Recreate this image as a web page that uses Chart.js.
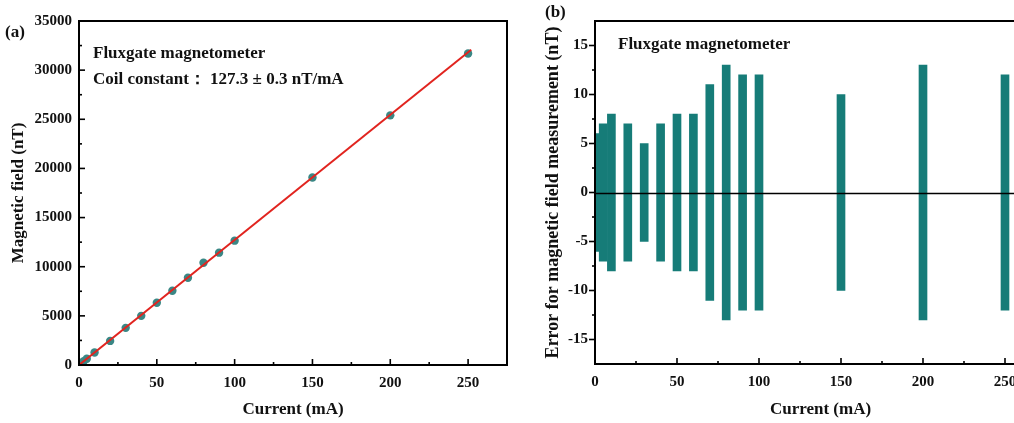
<!DOCTYPE html>
<html><head><meta charset="utf-8">
<script src="https://cdn.jsdelivr.net/npm/chart.js@4.4.1/dist/chart.umd.min.js"></script>
<style>
html,body{margin:0;padding:0;background:#fff;overflow:hidden;width:1014px;height:423px}
#wa{position:absolute;left:0;top:0}
#wb{position:absolute;left:535px;top:0}
</style></head><body>
<div id="wa"><canvas id="ca" width="520" height="423"></canvas></div>
<div id="wb"><canvas id="cb" width="525" height="423"></canvas></div>
<script>
// (a) calibration points
const currentA = [3, 5, 10, 20, 30, 40, 50, 60, 70, 80, 90, 100, 150, 200, 250];
const fieldA   = [380, 640, 1270, 2450, 3780, 5000, 6330, 7550, 8880, 10400, 11430, 12650, 19080, 25400, 31700];
// (a) fitted line ends
const fitX = [0, 252];
const fitY = [0, 32080];
// (b) error range per current
const currentB = [3, 5, 10, 20, 30, 40, 50, 60, 70, 80, 90, 100, 150, 200, 250];
const errLow   = [-6, -7, -8, -7, -5, -7, -8, -8, -11, -13, -12, -12, -10, -13, -12];
const errHigh  = [6, 7, 8, 7, 5, 7, 8, 8, 11, 13, 12, 12, 10, 13, 12];
// ticks
const xTicks  = [0, 50, 100, 150, 200, 250];
const yTicksA = [0, 5000, 10000, 15000, 20000, 25000, 30000, 35000];
const yTicksB = [-15, -10, -5, 0, 5, 10, 15];

const FONT = '"Liberation Serif", "Times New Roman", serif';
Chart.defaults.font.family = FONT;
Chart.defaults.color = '#111';

const tickFont = {family: FONT, size: 15, weight: 'bold'};
const titleFont = {family: FONT, size: 17, weight: 'bold'};

function setTicks(list){ return s => { s.ticks = list.map(v => ({value: v})); }; }

// frame, inward/outward ticks, zero line, free text
function decor(o){
  return {
    id: 'decor',
    afterDatasetsDraw(chart){
      const {ctx, chartArea: a, scales: {x, y}} = chart;
      ctx.save();
      ctx.strokeStyle = '#000';
      if (o.zero){
        ctx.lineWidth = 1.6;
        const y0 = Math.round(y.getPixelForValue(0)) + 0.5;
        ctx.beginPath(); ctx.moveTo(a.left, y0); ctx.lineTo(a.right, y0); ctx.stroke();
      }
      ctx.lineWidth = 2;
      ctx.strokeRect(a.left, a.top, a.right - a.left, a.bottom - a.top);
      ctx.lineWidth = 1.6;
      const marks = (sc, list) => {
        const step = list[1] - list[0], out = [];
        list.forEach(v => { out.push([v, 1]); if (v + step/2 < sc.max) out.push([v + step/2, 0]); });
        return out;
      };
      marks(x, o.xt).forEach(([v, major]) => {
        const p = x.getPixelForValue(v), len = major ? 6 : 3;
        ctx.beginPath(); ctx.moveTo(p, a.bottom); ctx.lineTo(p, a.bottom - len); ctx.stroke();
      });
      marks(y, o.yt).forEach(([v, major]) => {
        const p = y.getPixelForValue(v), len = major ? 6 : 3;
        const d = o.yOut ? -len : len;
        ctx.beginPath(); ctx.moveTo(a.left, p); ctx.lineTo(a.left + d, p); ctx.stroke();
      });
      ctx.fillStyle = '#111';
      ctx.font = 'bold 17px ' + FONT;
      ctx.textBaseline = 'middle';
      o.texts.forEach(t => ctx.fillText(t[0], t[1], t[2]));
      ctx.restore();
    }
  };
}

function scales(xt, yt, yMin, yMax, yTitle, yTitleSize, yAfterFit, xAfterFit){
  return {
    x: {
      type: 'linear', min: 0, max: 275, offset: false,
      afterBuildTicks: setTicks(xt),
      afterFit: xAfterFit,
      grid: {display: false, drawTicks: false, offset: false}, border: {display: false},
      ticks: {font: tickFont, padding: 9, color: '#111', callback: v => String(v)},
      title: {display: true, text: 'Current (mA)', font: titleFont, color: '#111', padding: {top: 0, bottom: 3}}
    },
    y: {
      type: 'linear', min: yMin, max: yMax,
      afterBuildTicks: setTicks(yt),
      afterFit: yAfterFit,
      grid: {display: false, drawTicks: false}, border: {display: false},
      ticks: {font: tickFont, padding: 7, color: '#111', callback: v => String(v)},
      title: {display: true, text: yTitle, font: {...titleFont, size: yTitleSize}, color: '#111', padding: {top: 8, bottom: 0}}
    }
  };
}

new Chart(document.getElementById('ca'), {
  type: 'scatter',
  data: {
    datasets: [
      {data: fitX.map((v, i) => ({x: v, y: fitY[i]})), showLine: true, borderColor: '#e1241f', borderWidth: 2, pointRadius: 0},
      {data: currentA.map((v, i) => ({x: v, y: fieldA[i]})), pointRadius: 4.2, backgroundColor: '#3a8785', borderWidth: 0}
    ]
  },
  options: {
    responsive: false, animation: false,
    layout: {padding: {top: 21, right: 13, left: 0, bottom: 0}},
    plugins: {legend: {display: false}, tooltip: {enabled: false}},
    scales: scales(xTicks, yTicksA, 0, 35000, 'Magnetic field (nT)', 17, s => { s.width = 79; }, s => { s.height = 58; })
  },
  plugins: [decor({xt: xTicks, yt: yTicksA, yOut: false, texts: [
    ['(a)', 5, 33],
    ['Fluxgate magnetometer', 93, 54],
    ['Coil constant\uff1a 127.3 \u00b1 0.3 nT/mA', 93, 80]
  ]})]
});

new Chart(document.getElementById('cb'), {
  type: 'bar',
  data: {
    datasets: [{
      data: currentB.map((v, i) => ({x: v, y: [errLow[i], errHigh[i]]})),
      backgroundColor: '#167c78', borderWidth: 0, barThickness: 8
    }]
  },
  options: {
    responsive: false, animation: false,
    layout: {padding: {top: 21, right: 14, left: 0, bottom: 0}},
    plugins: {legend: {display: false}, tooltip: {enabled: false}},
    scales: scales(xTicks, yTicksB, -17.5, 17.5, 'Error for magnetic field measurement (nT)', 18, s => { s.width = 60; }, s => { s.height = 59; })
  },
  plugins: [decor({xt: xTicks, yt: yTicksB, yOut: true, zero: true, texts: [
    ['(b)', 10, 13],
    ['Fluxgate magnetometer', 83, 45]
  ]})]
});
</script>
</body></html>
